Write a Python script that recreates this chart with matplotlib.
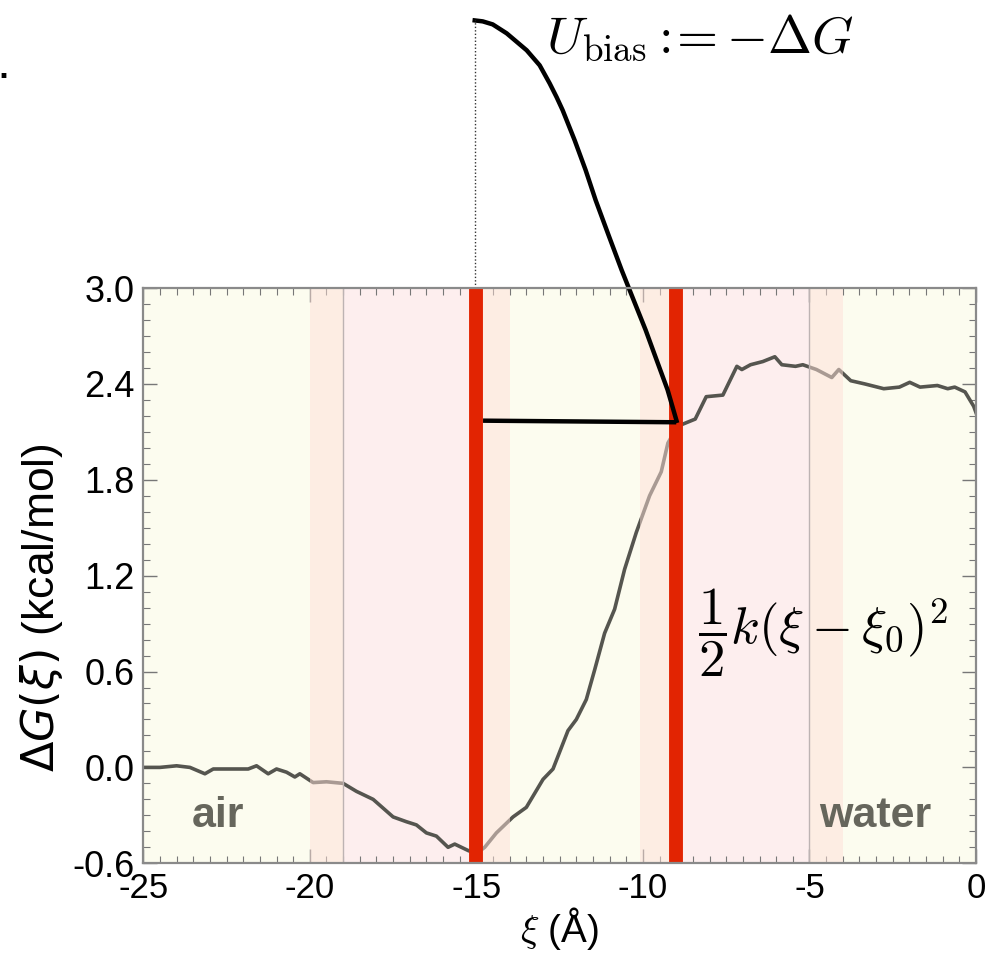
import matplotlib
matplotlib.use("Agg")
import matplotlib.pyplot as plt
from matplotlib.ticker import MultipleLocator, FormatStrFormatter

plt.rcParams["font.family"] = ["Liberation Sans", "DejaVu Sans"]
plt.rcParams["axes.unicode_minus"] = False

# free energy profile
xi = [-25.0, -24.5, -24.0, -23.6, -23.15, -22.9, -22.1, -21.85, -21.6, -21.25,
      -21.0, -20.7, -20.45, -20.3, -19.9, -19.5, -19.0, -18.6, -18.1, -17.5,
      -17.1, -16.8, -16.5, -16.2, -15.85, -15.65, -15.25, -15.0, -14.75, -14.4,
      -13.9, -13.5, -13.0, -12.7, -12.25, -12.0, -11.7, -11.45, -11.15, -10.85,
      -10.55, -10.2, -9.8, -9.45, -9.25, -9.0, -8.9, -8.43, -8.1, -7.6,
      -7.18, -7.03, -6.77, -6.4, -6.04, -5.83, -5.42, -5.2, -4.79, -4.33,
      -4.12, -3.76, -3.34, -2.77, -2.3, -1.99, -1.68, -1.16, -0.85, -0.64,
      -0.33, -0.07, 0.0]
dG = [0.0, 0.0, 0.01, 0.0, -0.04, -0.01, -0.01, -0.01, 0.01, -0.04,
      -0.01, -0.03, -0.06, -0.04, -0.095, -0.09, -0.10, -0.15, -0.20, -0.31,
      -0.34, -0.36, -0.41, -0.43, -0.50, -0.48, -0.52, -0.54, -0.50, -0.41,
      -0.31, -0.25, -0.075, -0.01, 0.23, 0.30, 0.425, 0.61, 0.84, 0.99,
      1.24, 1.47, 1.70, 1.85, 2.03, 2.12, 2.14, 2.18, 2.32, 2.33,
      2.51, 2.49, 2.52, 2.54, 2.57, 2.52, 2.51, 2.52, 2.49, 2.44,
      2.49, 2.42, 2.40, 2.37, 2.38, 2.41, 2.38, 2.39, 2.37, 2.38,
      2.35, 2.26, 2.22]

# bias sketch (drawn above the axes)
bias_x = [-15.05, -14.81, -14.51, -14.09, -13.49, -13.10, -12.80, -12.59, -12.41,
          -12.05, -11.72, -11.42, -11.03, -10.64, -10.28, -9.92, -9.59, -9.26, -8.99]
bias_y = [4.675, 4.669, 4.65, 4.594, 4.488, 4.394, 4.281, 4.194, 4.113,
          3.925, 3.738, 3.55, 3.33, 3.113, 2.925, 2.738, 2.55, 2.363, 2.169]
level_x = [-14.8, -9.0]
level_y = [2.17, 2.16]

# region bands
pink_bands = [(-19, -15), (-9, -5)]
peach_bands = [(-20, -19), (-15, -14), (-10.1, -9), (-5, -4)]
window_edges = [-19, -5]
restraints = [-15, -9]

yellow = "#fcfcef"
pink = "#fdeeee"
peach = "#fee0d8"
red = "#e22402"

fig = plt.figure(figsize=(9.93, 9.56), dpi=100)
ax = fig.add_axes([0.1443, 0.0970, 0.8386, 0.6017])
ax.set_facecolor(yellow)

for a, b in pink_bands:
    ax.axvspan(a, b, color=pink, lw=0, zorder=0)

ax.plot(xi, dG, color="#55554f", lw=2.6, zorder=2)

for a, b in peach_bands:
    ax.axvspan(a, b, color=peach, alpha=0.5, lw=0, zorder=3)
for x in window_edges:
    ax.axvline(x, color="#bdb3b3", lw=1.0, zorder=3)

for x in restraints:
    ax.axvline(x, ymax=0.997, color=red, lw=10, zorder=4)

ax.plot(level_x, level_y, color="black", lw=3.2, zorder=5, solid_capstyle="butt")
ax.plot(bias_x, bias_y, color="black", lw=3.2, zorder=5, clip_on=False,
        solid_joinstyle="round")
ax.plot([-15.05, -15.05], [3.0, 4.675], color="#333333", lw=1.0, ls=(0, (1, 1.5)),
        zorder=5, clip_on=False)

ax.text(-23.55, -0.375, "air", fontsize=31, fontweight="bold", color="#66665c",
        ha="left", va="baseline", zorder=6)
ax.text(-4.72, -0.375, "water", fontsize=31, fontweight="bold", color="#66665c",
        ha="left", va="baseline", zorder=6)

ax.text(-12.9, 4.47, r"$U_{\rm bias} :\!\!= -\Delta G$", fontsize=38,
        math_fontfamily="cm", ha="left", va="baseline", clip_on=False)
ax.text(-8.35, 0.84, r"$\dfrac{1}{2}k(\xi - \xi_0)^2$", fontsize=38,
        math_fontfamily="cm", ha="left", va="center", zorder=6)

ax.set_xlim(-25, 0)
ax.set_ylim(-0.6, 3.0)
ax.xaxis.set_major_locator(MultipleLocator(5))
ax.xaxis.set_minor_locator(MultipleLocator(0.5))
ax.yaxis.set_major_locator(MultipleLocator(0.6))
ax.yaxis.set_minor_locator(MultipleLocator(0.1))
ax.yaxis.set_major_formatter(FormatStrFormatter("%.1f"))
ax.xaxis.set_major_formatter(FormatStrFormatter("%d"))
ax.tick_params(which="both", direction="in", top=True, right=True, color="#777777")
ax.tick_params(which="major", length=10, width=1.0, pad=6)
ax.tick_params(which="minor", length=5, width=0.8)
ax.tick_params(axis="y", which="major", labelsize=26)
ax.tick_params(axis="x", which="major", labelsize=25)
for s in ax.spines.values():
    s.set_color("#8a8a8a")
    s.set_linewidth(1.6)
    s.set_zorder(7)

ax.set_xlabel("$\\xi$ (Å)", fontsize=28, math_fontfamily="cm", labelpad=0)
ax.set_ylabel(r"$\Delta G(\xi)$ (kcal/mol)", fontsize=32, math_fontfamily="dejavusans")
ax.yaxis.set_label_coords(-0.094, 0.445)

fig.text(-0.004, 0.918, ".", fontsize=36, color="black")

fig.savefig("out.png", dpi=100)
